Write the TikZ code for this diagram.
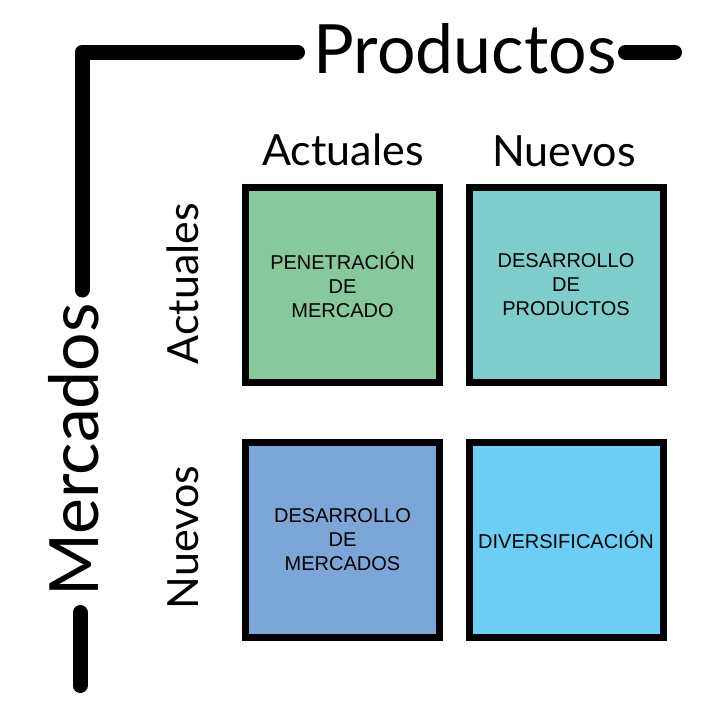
\documentclass[tikz,border=0pt]{standalone}
\usepackage{fontspec}
\setmainfont{Lato}
\newfontfamily\boxfont{Liberation Sans}
\definecolor{cgreen}{HTML}{86C99A}
\definecolor{cteal}{HTML}{7ECCCB}
\definecolor{cblue}{HTML}{7CA6D8}
\definecolor{clight}{HTML}{6DCEF5}
\begin{document}
\begin{tikzpicture}[x=1pt,y=-1pt,
  axisline/.style={line width=15pt,line cap=round,line join=round},
  cell/.style={draw=black,line width=7pt,minimum width=194pt,minimum height=195pt,inner sep=0pt,
    font=\boxfont\fontsize{20}{24}\selectfont,align=center,text=black},
  bigtitle/.style={font=\fontsize{68}{78}\selectfont,anchor=base,inner sep=0pt},
  sublabel/.style={font=\fontsize{43}{49}\selectfont,anchor=base,inner sep=0pt}]
\useasboundingbox[fill=white] (0,0) rectangle (720,720);
\node[bigtitle] (prod) at (465,73) {Productos};
\node[bigtitle,rotate=90] (merc) at (98,450) {Mercados};
\node[sublabel] (colA) at (343,165) {Actuales};
\node[sublabel] (colN) at (564,166) {Nuevos};
\node[sublabel,rotate=90] (rowA) at (198,283.5) {Actuales};
\node[sublabel,rotate=90] (rowN) at (198,537.5) {Nuevos};
\coordinate (c0) at (82,290);
\coordinate (c1) at (82,52);
\coordinate (c2) at (297.5,52);
\coordinate (r1) at (625.5,52);
\coordinate (r2) at (674.5,52);
\coordinate (b1) at (80,612.5);
\coordinate (b2) at (80,685.5);
\draw[axisline] (c0) -- (c1) -- (c2);
\draw[axisline] (r1) -- (r2);
\draw[axisline] (b1) -- (b2);
\node[cell,fill=cgreen] (pen) at (342.5,284.5) {PENETRACIÓN\\DE\\MERCADO};
\node[cell,fill=cteal] (dprod) at (566,284.5) {DESARROLLO\\DE\\PRODUCTOS};
\node[cell,fill=cblue] (dmerc) at (342.5,540) {DESARROLLO\\DE\\MERCADOS};
\node[cell,fill=clight] (div) at (566,540) {DIVERSIFICACIÓN};
\end{tikzpicture}
\end{document}
